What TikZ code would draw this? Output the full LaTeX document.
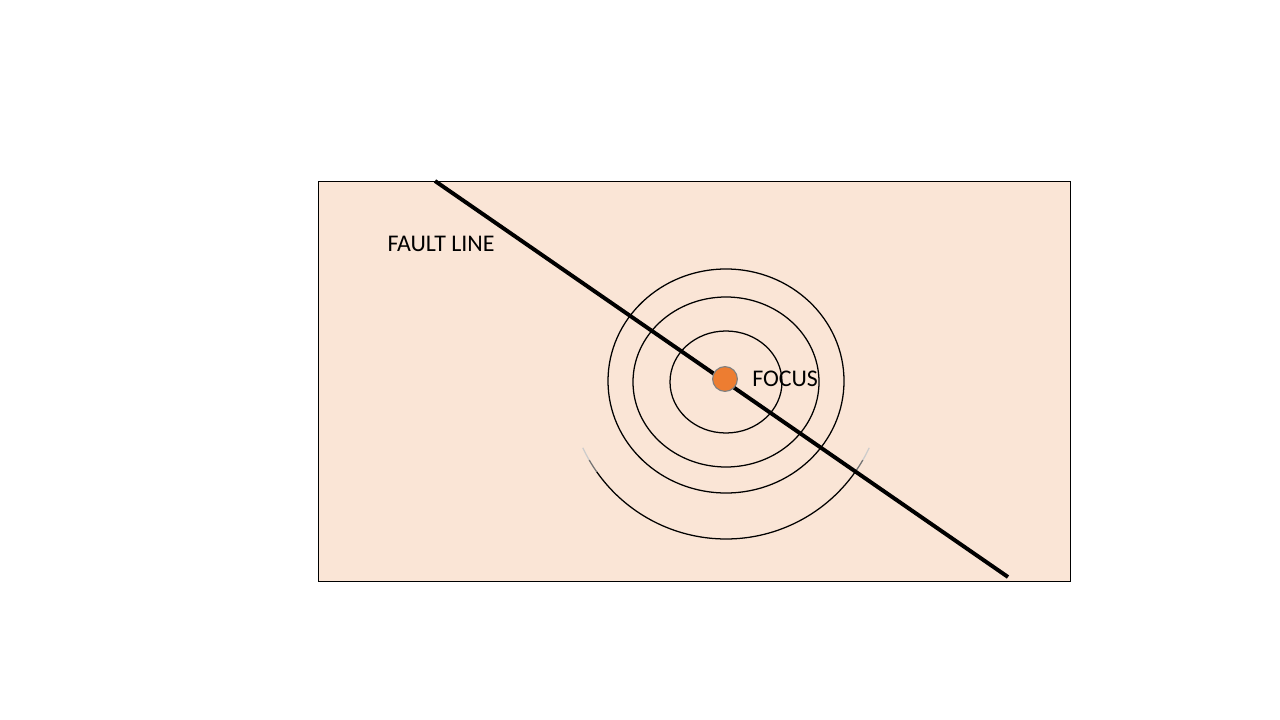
\documentclass[tikz,border=0pt]{standalone}
\usepackage{fontspec}
\setmainfont{Carlito}
\usetikzlibrary{positioning}

\definecolor{crust}{HTML}{FAE5D6}
\definecolor{quake}{HTML}{ED7D31}

\begin{document}
\begin{tikzpicture}[x=0.025cm, y=-0.025cm,
  ground/.style={draw=black, line width=0.7pt, fill=crust},
  wave/.style={draw=black, line width=0.9pt},
  fault/.style={draw=black, line width=2.8pt},
  dot/.style={circle, fill=quake, draw=gray, line width=0.8pt, minimum size=0.62cm, inner sep=0pt},
  label/.style={font=\fontsize{17}{19}\selectfont, inner sep=0pt}
]
\useasboundingbox (0,0) rectangle (1280,720);

% Ground block
\draw[ground] (318,181) rectangle (1070,581);

% Seismic waves around the focus
\draw[wave] (726,382) ellipse [x radius=56, y radius=51];
\draw[wave] (726,382) ellipse [x radius=93, y radius=85];
\draw[wave] (726,381) ellipse [x radius=118, y radius=112];
\draw[wave] (726,381) ++(35:158) arc[start angle=35, end angle=145, radius=158];
% faded ends of the outer wave
\draw[wave, draw=black!55] (726,381) ++(30:158) arc[start angle=30, end angle=35, radius=158];
\draw[wave, draw=black!20] (726,381) ++(25:158) arc[start angle=25, end angle=30, radius=158];
\draw[wave, draw=black!55] (726,381) ++(145:158) arc[start angle=145, end angle=150, radius=158];
\draw[wave, draw=black!20] (726,381) ++(150:158) arc[start angle=150, end angle=155, radius=158];

% Fault line
\coordinate (ftop) at (435,181);
\coordinate (fbot) at (1008,577);
\draw[fault] (ftop) -- (fbot);

% Focus
\node[dot] (focus) at (725,379) {};
\node[label, right=0.35cm of focus] (focuslbl) {FOCUS};

% Fault label
\node[label] (faultlbl) at (441,244) {FAULT LINE};

\end{tikzpicture}
\end{document}
